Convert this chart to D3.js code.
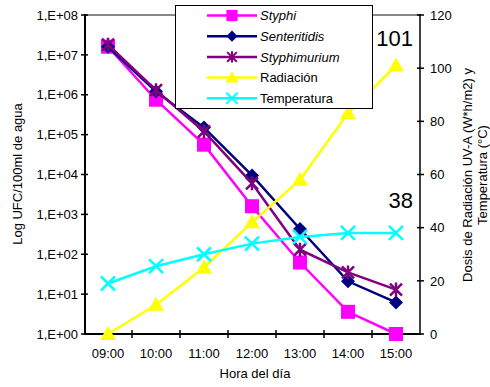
<!DOCTYPE html>
<html><head><meta charset="utf-8">
<script src="https://cdn.jsdelivr.net/npm/d3@7"></script>
<style>body{margin:0;background:#fff}svg{display:block;font-family:"Liberation Sans",Arial,sans-serif}</style>
</head><body><svg id="c" width="490" height="387"></svg>
<script>
const categories = ["09:00","10:00","11:00","12:00","13:00","14:00","15:00"];
const styphi = [1.6e7, 7.5e5, 5.6e4, 1.6e3, 62, 3.6, 1];
const senteritidis = [1.6e7, 1.2e6, 1.5e5, 9.5e3, 430, 21, 6.2];
const styphimurium = [1.8e7, 1.3e6, 1.2e5, 6.0e3, 130, 35, 13];
const radiacion = [0, 11, 25, 42, 58, 83, 101];
const temperatura = [19, 25.5, 30, 34, 36.5, 38, 38];
const leftTicks = [1,1e1,1e2,1e3,1e4,1e5,1e6,1e7,1e8];
const leftTickLabels = ["1,E+00","1,E+01","1,E+02","1,E+03","1,E+04","1,E+05","1,E+06","1,E+07","1,E+08"];
const rightTicks = [0,20,40,60,80,100,120];
const seriesNames = ["Styphi","Senteritidis","Styphimurium","Radiación","Temperatura"];
const endLabels = ["101","38"];

const svg = d3.select("#c");
const L=85, R=420, T=15, B=334, FS=13;
const x = d3.scaleBand().domain(categories).range([84,420]).paddingInner(0).paddingOuter(0);
const yL = d3.scaleLog().domain([1,1e8]).range([B,T]);
const yR = d3.scaleLinear().domain([0,120]).range([B,T]);
const cx = d => x(d)+x.bandwidth()/2;

// top gray border
svg.append("line").attr("x1",L).attr("x2",R).attr("y1",T).attr("y2",T).attr("stroke","#888").attr("stroke-width",2);

// left axis
const gl = svg.append("g");
gl.append("line").attr("x1",L).attr("x2",L).attr("y1",T-1).attr("y2",B+1).attr("stroke","#000").attr("stroke-width",2);
leftTicks.forEach((t,i)=>{
  gl.append("line").attr("x1",L-4).attr("x2",L+3).attr("y1",yL(t)).attr("y2",yL(t)).attr("stroke","#000").attr("stroke-width",1.5);
  gl.append("text").attr("x",78).attr("y",yL(t)).attr("dy","0.36em").attr("text-anchor","end").attr("font-size",FS).text(leftTickLabels[i]);
});
// right axis
const gr = svg.append("g");
gr.append("line").attr("x1",R).attr("x2",R).attr("y1",T-1).attr("y2",B+1).attr("stroke","#000").attr("stroke-width",1.5);
rightTicks.forEach(t=>{
  gr.append("line").attr("x1",R-3).attr("x2",R+4).attr("y1",yR(t)).attr("y2",yR(t)).attr("stroke","#000").attr("stroke-width",1.5);
  gr.append("text").attr("x",430).attr("y",yR(t)).attr("dy","0.36em").attr("text-anchor","start").attr("font-size",FS).text(t);
});
// bottom axis
const gb = svg.append("g");
gb.append("line").attr("x1",L-1).attr("x2",R+1).attr("y1",B).attr("y2",B).attr("stroke","#000").attr("stroke-width",2);
categories.forEach((c,i)=>{
  const bx = x(c);
  if(i>0) gb.append("line").attr("x1",bx).attr("x2",bx).attr("y1",B-4).attr("y2",B+4).attr("stroke","#000").attr("stroke-width",1.5);
  gb.append("text").attr("x",cx(c)).attr("y",358).attr("text-anchor","middle").attr("font-size",FS).text(c);
});

// titles
svg.append("text").attr("transform","translate(22,174) rotate(-90)").attr("text-anchor","middle").attr("font-size",FS).text("Log UFC/100ml de agua");
svg.append("text").attr("transform","translate(472,175) rotate(-90)").attr("text-anchor","middle").attr("font-size",FS).text("Dosis de Radiación UV-A (W*h/m2) y");
svg.append("text").attr("transform","translate(487,175) rotate(-90)").attr("text-anchor","middle").attr("font-size",FS).text("Temperatura (°C)");
svg.append("text").attr("x",255).attr("y",378).attr("text-anchor","middle").attr("font-size",FS).text("Hora del día");

// markers
function marker(g, type, color, px, py){
  if(type==="square") g.append("rect").attr("x",px-7).attr("y",py-7).attr("width",14).attr("height",14).attr("fill",color);
  else if(type==="diamond") g.append("path").attr("d",`M${px},${py-7}L${px+7},${py}L${px},${py+7}L${px-7},${py}Z`).attr("fill",color);
  else if(type==="star") g.append("path").attr("d",`M${px-6},${py-6}L${px+6},${py+6}M${px-6},${py+6}L${px+6},${py-6}M${px},${py-7}L${px},${py+7}`).attr("stroke",color).attr("stroke-width",2.5).attr("fill","none");
  else if(type==="triangle") g.append("path").attr("d",`M${px},${py-8}L${px+8},${py+6}L${px-8},${py+6}Z`).attr("fill",color);
  else if(type==="x") g.append("path").attr("d",`M${px-7},${py-7}L${px+7},${py+7}M${px-7},${py+7}L${px+7},${py-7}`).attr("stroke",color).attr("stroke-width",2.5).attr("fill","none");
}
const series = [
  {name:seriesNames[0], vals:styphi, color:"#FF00FF", m:"square", y:yL},
  {name:seriesNames[1], vals:senteritidis, color:"#000080", m:"diamond", y:yL},
  {name:seriesNames[2], vals:styphimurium, color:"#800080", m:"star", y:yL},
  {name:seriesNames[3], vals:radiacion, color:"#FFFF00", m:"triangle", y:yR},
  {name:seriesNames[4], vals:temperatura, color:"#00FFFF", m:"x", y:yR}
];
series.forEach(s=>{
  const g = svg.append("g");
  const line = d3.line().x((d,i)=>cx(categories[i])).y(d=>s.y(d));
  g.append("path").attr("d",line(s.vals)).attr("fill","none").attr("stroke",s.color).attr("stroke-width",2.5);
  s.vals.forEach((v,i)=>marker(g,s.m,s.color,cx(categories[i]),s.y(v)));
});

// end labels
svg.append("text").attr("x",413).attr("y",yR(radiacion[6])-20).attr("text-anchor","end").attr("font-size",22).text(endLabels[0]);
svg.append("text").attr("x",413).attr("y",yR(temperatura[6])-25).attr("text-anchor","end").attr("font-size",22).text(endLabels[1]);

// legend
const lg = svg.append("g");
lg.append("rect").attr("x",175.5).attr("y",5.5).attr("width",197).attr("height",103).attr("fill","#fff").attr("stroke","#000").attr("stroke-width",1);
series.forEach((s,i)=>{
  const ly = 15.5 + i*20.7;
  lg.append("line").attr("x1",207).attr("x2",257).attr("y1",ly).attr("y2",ly).attr("stroke",s.color).attr("stroke-width",2.5);
  const mg = lg.append("g").attr("transform",`translate(232,${ly}) scale(0.8) translate(-232,${-ly})`);
  marker(mg,s.m,s.color,232,ly);
  lg.append("text").attr("x",260).attr("y",ly).attr("dy","0.36em").attr("font-size",FS).attr("font-style",i<3?"italic":"normal").text(s.name);
});
</script></body></html>
